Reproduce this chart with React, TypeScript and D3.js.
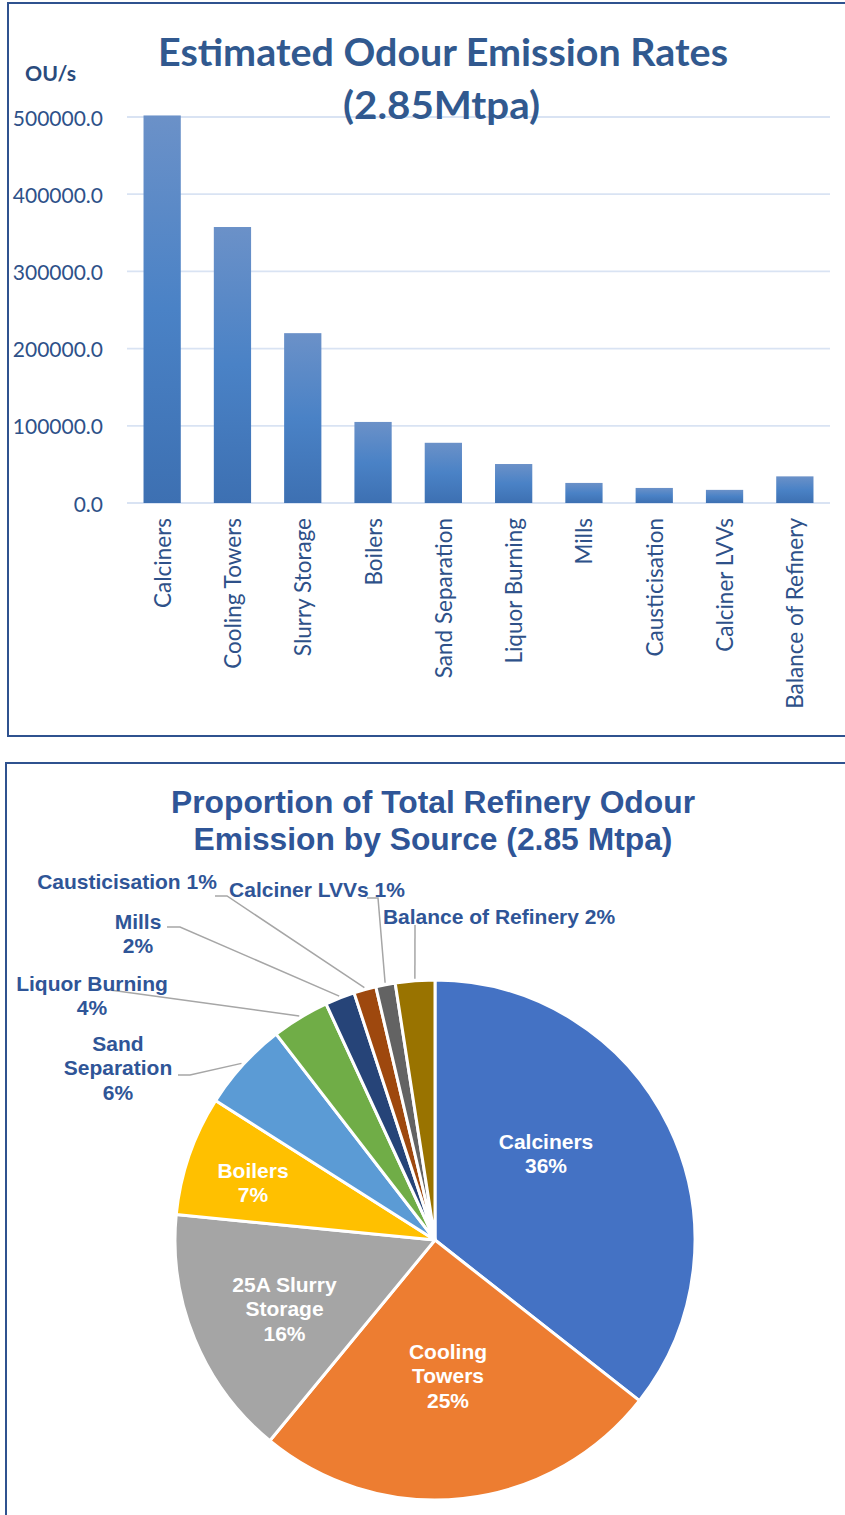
// @ts-nocheck
import React, { useEffect, useRef } from 'react';
import * as d3 from 'd3';

// bar chart data (OU/s)
const categories = [
  'Calciners', 'Cooling Towers', 'Slurry Storage', 'Boilers', 'Sand Separation',
  'Liquor Burning', 'Mills', 'Causticisation', 'Calciner LVVs', 'Balance of Refinery',
];
const emissionRates = [502000, 357500, 220000, 105000, 78000, 50500, 26000, 19500, 17000, 34500];
const yTicks = [0, 100000, 200000, 300000, 400000, 500000];

// pie chart labels (same sources, same order)
const pieNames = [
  'Calciners', 'Cooling\nTowers', '25A Slurry\nStorage', 'Boilers', 'Sand\nSeparation',
  'Liquor Burning', 'Mills', 'Causticisation', 'Calciner LVVs', 'Balance of Refinery',
];
const pctInline = [false, false, false, false, false, false, false, true, true, true];
const pieColors = ['#4472C4', '#ED7D31', '#A5A5A5', '#FFC000', '#5B9BD5', '#70AD47', '#264478', '#9E480E', '#636363', '#997300'];

const App = () => {
  const ref = useRef<SVGSVGElement | null>(null);

  useEffect(() => {
    const svg = d3.select(ref.current);
    svg.selectAll('*').remove();

    const navy = '#2F528F';
    const txt = '#2E5189';

    // frames
    svg.append('rect').attr('x', 8).attr('y', 3).attr('width', 900).attr('height', 733)
      .attr('fill', 'none').attr('stroke', navy).attr('stroke-width', 2);
    svg.append('rect').attr('x', 6).attr('y', 763).attr('width', 900).attr('height', 800)
      .attr('fill', 'none').attr('stroke', navy).attr('stroke-width', 2);

    // ---------- bar chart ----------
    const x = d3.scaleBand().domain(categories).range([127, 830]).paddingInner(0.47).paddingOuter(0.235);
    const y = d3.scaleLinear().domain([0, 500000]).range([503, 117]);

    const grad = svg.append('defs').append('linearGradient').attr('id', 'barGrad')
      .attr('x1', 0).attr('y1', 0).attr('x2', 0).attr('y2', 1);
    grad.append('stop').attr('offset', '0%').attr('stop-color', '#6B91C8');
    grad.append('stop').attr('offset', '50%').attr('stop-color', '#4A82C6');
    grad.append('stop').attr('offset', '100%').attr('stop-color', '#3D70B2');

    svg.append('g').selectAll('line').data(yTicks).enter().append('line')
      .attr('x1', 127).attr('x2', 830)
      .attr('y1', (d) => y(d)).attr('y2', (d) => y(d))
      .attr('stroke', '#D9E3F3').attr('stroke-width', 1.8);

    svg.append('g').selectAll('text').data(yTicks).enter().append('text')
      .attr('x', 103).attr('y', (d) => y(d))
      .attr('text-anchor', 'end').attr('dominant-baseline', 'central')
      .style('font-family', 'Lato').style('font-size', '21px').style('fill', txt)
      .text((d) => d3.format('.1f')(d));

    svg.append('g').selectAll('rect').data(emissionRates).enter().append('rect')
      .attr('x', (d, i) => x(categories[i]))
      .attr('width', x.bandwidth())
      .attr('y', (d) => y(d))
      .attr('height', (d) => y(0) - y(d))
      .attr('fill', 'url(#barGrad)');

    svg.append('g').selectAll('text').data(categories).enter().append('text')
      .attr('transform', (d) => `translate(${x(d) + x.bandwidth() / 2},518) rotate(-90)`)
      .attr('text-anchor', 'end').attr('dominant-baseline', 'central')
      .style('font-family', 'Lato').style('font-size', '22.5px').style('fill', txt)
      .text((d) => d);

    svg.append('text').attr('x', 158).attr('y', 66)
      .attr('textLength', 570).attr('lengthAdjust', 'spacingAndGlyphs')
      .style('font-family', 'Lato').style('font-weight', 'bold').style('font-size', '38px').style('fill', '#31598F')
      .text('Estimated Odour Emission Rates');
    svg.append('text').attr('x', 343).attr('y', 119)
      .attr('textLength', 197).attr('lengthAdjust', 'spacingAndGlyphs')
      .style('font-family', 'Lato').style('font-weight', 'bold').style('font-size', '38px').style('fill', '#31598F')
      .text('(2.85Mtpa)');
    svg.append('text').attr('x', 25).attr('y', 81)
      .attr('textLength', 51).attr('lengthAdjust', 'spacingAndGlyphs')
      .style('font-family', 'Lato').style('font-weight', 'bold').style('font-size', '20px').style('fill', '#2A4B7C')
      .text('OU/s');

    // ---------- pie chart ----------
    const cx = 435, cy = 1240, r = 260;
    const pTitle = '#2F5597';
    const font = 'Liberation Sans, Arial, sans-serif';

    svg.append('text').attr('x', 433).attr('y', 813).attr('text-anchor', 'middle')
      .style('font-family', font).style('font-weight', 'bold').style('font-size', '31.8px').style('fill', pTitle)
      .text('Proportion of Total Refinery Odour');
    svg.append('text').attr('x', 433).attr('y', 850).attr('text-anchor', 'middle')
      .style('font-family', font).style('font-weight', 'bold').style('font-size', '31.8px').style('fill', pTitle)
      .text('Emission by Source (2.85 Mtpa)');

    const total = d3.sum(emissionRates);
    const arcs = d3.pie().sort(null).value((d) => d)(emissionRates);
    const arc = d3.arc().innerRadius(0).outerRadius(r);
    const edge = d3.arc().innerRadius(r + 2).outerRadius(r + 2);

    const pg = svg.append('g').attr('transform', `translate(${cx},${cy})`);
    pg.selectAll('path').data(arcs).enter().append('path')
      .attr('d', arc)
      .attr('fill', (d, i) => pieColors[i])
      .attr('stroke', '#fff').attr('stroke-width', 3).attr('stroke-linejoin', 'round');

    // label placement, offsets from the pie centre: [dx, dy, inside]
    const labelPos = [
      [111, -99, true], [13, 111, true], [-150.5, 44, true], [-182, -70, true], [-317, -197, false],
      [-343, -257, false], [-297, -319, false], [-308, -359, false], [-118, -351, false], [64, -324, false],
    ];
    // leader start [dx, dy, elbow length]
    const leaders = [
      null, null, null, null, [-257, -165, 12],
      [-325, -250, 0], [-268, -313, 13], [-220, -344, 12], [-68, -342, 11], [-20, -315, 0],
    ];

    arcs.forEach((a, i) => {
      const pct = Math.round((a.value / total) * 100) + '%';
      const lines = pieNames[i].split('\n');
      if (pctInline[i]) lines[lines.length - 1] += ' ' + pct;
      else lines.push(pct);
      const [dx, dy, inside] = labelPos[i];

      const ld = leaders[i];
      if (ld) {
        const [ex, ey] = edge.centroid(a);
        const pts = [[ld[0], ld[1]], [ld[0] + ld[2], ld[1]], [ex, ey]];
        pg.append('path').attr('d', d3.line()(pts))
          .attr('fill', 'none').attr('stroke', '#A6A6A6').attr('stroke-width', 1.5);
      }

      const t = pg.append('text').attr('text-anchor', 'middle')
        .style('font-family', font).style('font-weight', 'bold').style('font-size', '21px')
        .style('fill', inside ? '#fff' : pTitle);
      lines.forEach((l, k) => {
        t.append('tspan').attr('x', dx).attr('y', dy + k * 24.5).attr('dominant-baseline', 'central').text(l);
      });
    });
  }, []);

  return (
    <svg ref={ref} width={845} height={1515}
      style={{ position: 'absolute', left: 0, top: 0, background: '#fff' }} />
  );
};

export default App;
